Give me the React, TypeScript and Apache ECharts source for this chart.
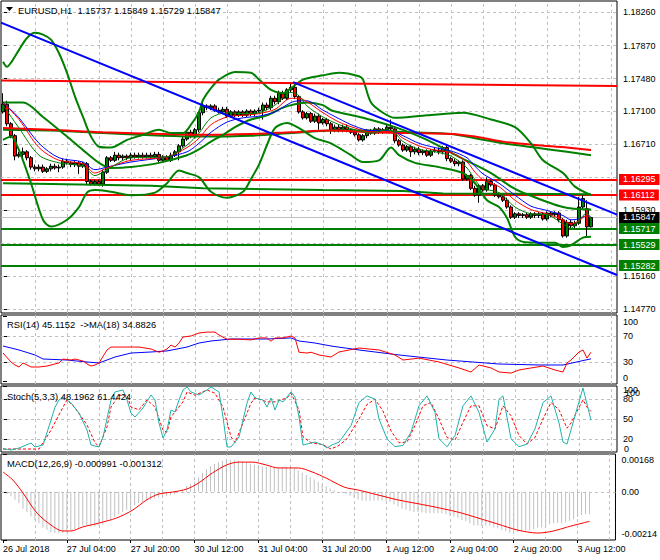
import React, { useEffect, useRef } from 'react';
import * as echarts from 'echarts';

const FONT = '"Liberation Sans", Arial, sans-serif';
const FS = 9;

const symbolTitle = 'EURUSD,H1  1.15737 1.15849 1.15729 1.15847';
const rsiTitle = 'RSI(14) 45.1152  ->MA(18) 34.8826';
const stochTitle = 'Stoch(5,3,3) 48.1962 61.4424';
const macdTitle = 'MACD(12,26,9) -0.000991 -0.001312';

const slotCount = 154;
const timeLabels = ['26 Jul 2018', '27 Jul 04:00', '27 Jul 20:00', '30 Jul 12:00', '31 Jul 04:00', '31 Jul 20:00', '1 Aug 12:00', '2 Aug 04:00', '2 Aug 20:00', '3 Aug 12:00'];
const timeLabelBars = [0, 16, 32, 48, 64, 80, 96, 112, 128, 144];
const verticalGridBars = [8, 16, 24, 32, 40, 48, 56, 64, 72, 80, 88, 96, 104, 112, 120, 128, 136, 144, 152];

const priceTickLabels = [1.1826, 1.1787, 1.1748, 1.171, 1.1671, 1.1593, 1.1516, 1.1477];
const priceGridLevels = [1.1826, 1.1787, 1.1748, 1.171, 1.1671, 1.1632, 1.1593, 1.1554, 1.1516, 1.1477];
const rsiTicks = [0, 30, 70, 100];
const rsiLevels = [30, 70];
const stochTicks = [0, 20, 50, 80, 100];
const stochLevels = [20, 50, 80];
const macdTicks = [-0.00214, 0, 0.00168];
const macdLevels = [0];

const resistanceLevels = [1.16295, 1.16112];
const supportLevels = [1.15717, 1.15529, 1.15282];
const bidPrice = 1.15847;

// [open, close, low, high]
const ohlc = [
  [1.1709, 1.1718, 1.1707, 1.1731], [1.1718, 1.1695, 1.1692, 1.1722], [1.1695, 1.1681, 1.1678, 1.1697], [1.1681, 1.1657, 1.1652, 1.1683],
  [1.1657, 1.1659, 1.1655, 1.1662], [1.1659, 1.1662, 1.1652, 1.1667], [1.1662, 1.1655, 1.1652, 1.1664], [1.1655, 1.1644, 1.1641, 1.1657],
  [1.1644, 1.1642, 1.1639, 1.1647], [1.1642, 1.1644, 1.1639, 1.1647], [1.1644, 1.1639, 1.1637, 1.1647], [1.1639, 1.1642, 1.1637, 1.1644],
  [1.1642, 1.1645, 1.1639, 1.1648], [1.1645, 1.1643, 1.1641, 1.1648], [1.1643, 1.1644, 1.1638, 1.1647], [1.1644, 1.1651, 1.1642, 1.1654],
  [1.1651, 1.1649, 1.1647, 1.1654], [1.1649, 1.1647, 1.1644, 1.1651], [1.1647, 1.1649, 1.1644, 1.1651], [1.1649, 1.1645, 1.1636, 1.1651],
  [1.1645, 1.1648, 1.1643, 1.165], [1.1648, 1.1627, 1.1623, 1.165], [1.1627, 1.1624, 1.1622, 1.1629], [1.1624, 1.1627, 1.1622, 1.1629],
  [1.1627, 1.1624, 1.1622, 1.1629], [1.1624, 1.1638, 1.1621, 1.1641], [1.1638, 1.1655, 1.1636, 1.1657], [1.1655, 1.1652, 1.165, 1.1657],
  [1.1652, 1.1658, 1.165, 1.1662], [1.1658, 1.1655, 1.1652, 1.1661], [1.1655, 1.1657, 1.1652, 1.1659], [1.1657, 1.1655, 1.1652, 1.1659],
  [1.1655, 1.1658, 1.1652, 1.1661], [1.1658, 1.1656, 1.1654, 1.1661], [1.1656, 1.1658, 1.1654, 1.1661], [1.1658, 1.1656, 1.1654, 1.1661],
  [1.1656, 1.1658, 1.1654, 1.1661], [1.1658, 1.1656, 1.1654, 1.1661], [1.1656, 1.1659, 1.1654, 1.1662], [1.1659, 1.1652, 1.165, 1.1662],
  [1.1652, 1.1656, 1.165, 1.1658], [1.1656, 1.1652, 1.165, 1.1658], [1.1652, 1.1658, 1.165, 1.1661], [1.1658, 1.1662, 1.1656, 1.1664],
  [1.1662, 1.1669, 1.1652, 1.1671], [1.1669, 1.1677, 1.1667, 1.168], [1.1677, 1.1685, 1.1675, 1.1688], [1.1685, 1.1681, 1.1678, 1.1688],
  [1.1681, 1.1688, 1.1678, 1.169], [1.1688, 1.1708, 1.1685, 1.171], [1.1708, 1.1716, 1.1705, 1.1723], [1.1716, 1.1714, 1.1711, 1.1718],
  [1.1714, 1.1716, 1.1711, 1.1718], [1.1716, 1.1711, 1.1709, 1.1718], [1.1711, 1.1709, 1.1707, 1.1714], [1.1709, 1.1712, 1.1707, 1.1715],
  [1.1712, 1.1704, 1.1702, 1.1715], [1.1704, 1.1709, 1.1702, 1.1711], [1.1709, 1.1705, 1.1703, 1.1711], [1.1705, 1.1709, 1.1703, 1.1711],
  [1.1709, 1.1705, 1.1703, 1.1711], [1.1705, 1.171, 1.1703, 1.1712], [1.171, 1.1707, 1.1704, 1.1712], [1.1707, 1.171, 1.1704, 1.1712],
  [1.171, 1.1711, 1.1708, 1.1714], [1.1711, 1.1717, 1.17, 1.172], [1.1717, 1.1714, 1.1711, 1.172], [1.1714, 1.1725, 1.1711, 1.1728],
  [1.1725, 1.1721, 1.1718, 1.1728], [1.1721, 1.1731, 1.1718, 1.1734], [1.1731, 1.1725, 1.1723, 1.1734], [1.1725, 1.1735, 1.1723, 1.1737],
  [1.1735, 1.1738, 1.1732, 1.1744], [1.1738, 1.1727, 1.1724, 1.1743], [1.1727, 1.1709, 1.1707, 1.1729], [1.1709, 1.1702, 1.17, 1.1711],
  [1.1702, 1.1707, 1.17, 1.1709], [1.1707, 1.1698, 1.1696, 1.1709], [1.1698, 1.1704, 1.1696, 1.1707], [1.1704, 1.1696, 1.1688, 1.1707],
  [1.1696, 1.17, 1.1694, 1.1702], [1.17, 1.1695, 1.1692, 1.1702], [1.1695, 1.1688, 1.1683, 1.1697], [1.1688, 1.1691, 1.1685, 1.1694],
  [1.1691, 1.1688, 1.1685, 1.1694], [1.1688, 1.1691, 1.1685, 1.1694], [1.1691, 1.1688, 1.1685, 1.1694], [1.1688, 1.1685, 1.1683, 1.169],
  [1.1685, 1.1682, 1.168, 1.1688], [1.1682, 1.1676, 1.1674, 1.1684], [1.1676, 1.1681, 1.1674, 1.1683], [1.1681, 1.1687, 1.1678, 1.1689],
  [1.1687, 1.1684, 1.1682, 1.1689], [1.1684, 1.1689, 1.1682, 1.1691], [1.1689, 1.1685, 1.1683, 1.1691], [1.1685, 1.1688, 1.1683, 1.169],
  [1.1688, 1.1691, 1.1685, 1.1694], [1.1691, 1.1689, 1.1687, 1.17], [1.1689, 1.1675, 1.1672, 1.1691], [1.1675, 1.167, 1.1668, 1.1677],
  [1.167, 1.1664, 1.1662, 1.1672], [1.1664, 1.1668, 1.1662, 1.167], [1.1668, 1.1662, 1.1656, 1.167], [1.1662, 1.1665, 1.1659, 1.1668],
  [1.1665, 1.1661, 1.1658, 1.1668], [1.1661, 1.1663, 1.1658, 1.1665], [1.1663, 1.1658, 1.1656, 1.1665], [1.1658, 1.1663, 1.1656, 1.1665],
  [1.1663, 1.1664, 1.1661, 1.1667], [1.1664, 1.1662, 1.1659, 1.1667], [1.1662, 1.1667, 1.1659, 1.1669], [1.1667, 1.1654, 1.1651, 1.1669],
  [1.1654, 1.1651, 1.1649, 1.1656], [1.1651, 1.1648, 1.1645, 1.1654], [1.1648, 1.165, 1.1645, 1.1652], [1.165, 1.163, 1.1628, 1.1652],
  [1.163, 1.1634, 1.1628, 1.1636], [1.1634, 1.1619, 1.1617, 1.1636], [1.1619, 1.1611, 1.1609, 1.1622], [1.1611, 1.1622, 1.1602, 1.1624],
  [1.1622, 1.1617, 1.1615, 1.1624], [1.1617, 1.1627, 1.1615, 1.1632], [1.1627, 1.1623, 1.1621, 1.1629], [1.1623, 1.1611, 1.1609, 1.1625],
  [1.1611, 1.1609, 1.1607, 1.1614], [1.1609, 1.1605, 1.1603, 1.1611], [1.1605, 1.1597, 1.1595, 1.1608], [1.1597, 1.1585, 1.1583, 1.1599],
  [1.1585, 1.1589, 1.1583, 1.1591], [1.1589, 1.1587, 1.1584, 1.1591], [1.1587, 1.1588, 1.1584, 1.159], [1.1588, 1.1585, 1.1583, 1.159],
  [1.1585, 1.1589, 1.1583, 1.1591], [1.1589, 1.1587, 1.1584, 1.1591], [1.1587, 1.1589, 1.1584, 1.1591], [1.1589, 1.1583, 1.1581, 1.1591],
  [1.1583, 1.159, 1.1581, 1.1592], [1.159, 1.1588, 1.1585, 1.1592], [1.1588, 1.159, 1.1585, 1.1592], [1.159, 1.1582, 1.1579, 1.1592],
  [1.1582, 1.1563, 1.1561, 1.1584], [1.1563, 1.1579, 1.1561, 1.1582], [1.1579, 1.1575, 1.1572, 1.1582], [1.1575, 1.1578, 1.1572, 1.1581],
  [1.1578, 1.1597, 1.1576, 1.1609], [1.1597, 1.1607, 1.1594, 1.1611], [1.1595, 1.15737, 1.1561, 1.1605], [1.15737, 1.15847, 1.15729, 1.15849],
];

const bbUpper = [[0, 1.1768], [1, 1.1762], [2, 1.1767], [4, 1.1782], [6, 1.1796], [8, 1.1802], [10, 1.18], [12, 1.1794], [14, 1.1778], [16, 1.1755], [18, 1.1727], [20, 1.1703], [22, 1.168], [24, 1.1668], [27, 1.1667], [31, 1.1676], [35, 1.1682], [39, 1.1688], [42, 1.1684], [45, 1.1684], [47, 1.1694], [49, 1.1709], [50, 1.1723], [52, 1.1737], [54, 1.1747], [58, 1.1756], [62, 1.1755], [64, 1.1747], [67, 1.1735], [70, 1.1731], [72, 1.1737], [75, 1.1747], [80, 1.1752], [84, 1.1755], [89, 1.1751], [90, 1.1747], [92, 1.172], [95, 1.1708], [98, 1.1702], [106, 1.1705], [115, 1.1708], [122, 1.17], [128, 1.1691], [132, 1.1672], [135, 1.1652], [140, 1.1637], [143, 1.1621], [147, 1.1611]];
const bbMiddle = [[0, 1.172], [5, 1.172], [10, 1.1703], [16, 1.168], [20, 1.1664], [24, 1.1649], [27, 1.1643], [32, 1.1644], [39, 1.1649], [46, 1.1658], [49, 1.1665], [52, 1.1674], [55, 1.1682], [58, 1.1691], [62, 1.17], [66, 1.1705], [70, 1.1714], [73, 1.1718], [76, 1.172], [80, 1.1717], [82, 1.1711], [90, 1.1702], [98, 1.1691], [106, 1.1676], [114, 1.1656], [122, 1.1637], [127, 1.1621], [130, 1.1614], [140, 1.1597], [147, 1.1594]];
const bbLower = [[0, 1.1676], [2, 1.168], [4, 1.1664], [7, 1.1625], [10, 1.1582], [12, 1.1574], [16, 1.1582], [19, 1.1597], [21, 1.1614], [23, 1.1617], [27, 1.1615], [32, 1.1611], [38, 1.1614], [41, 1.1625], [44, 1.164], [46, 1.1637], [49, 1.1632], [52, 1.1615], [56, 1.1608], [60, 1.1615], [62, 1.163], [64, 1.1647], [66, 1.167], [68, 1.169], [71, 1.1696], [74, 1.169], [78, 1.1678], [82, 1.1672], [87, 1.1658], [90, 1.165], [94, 1.1652], [97, 1.1667], [99, 1.1658], [103, 1.1649], [109, 1.1644], [115, 1.1637], [118, 1.1625], [121, 1.1605], [124, 1.1597], [126, 1.1584], [128, 1.1562], [130, 1.1556], [134, 1.1555], [138, 1.1555], [140, 1.155], [142, 1.1552], [145, 1.1561], [147, 1.1562]];

const maFast = [[0, 1.1717], [4, 1.169], [9, 1.1658], [14, 1.1649], [20, 1.1645], [23, 1.1634], [26, 1.1641], [32, 1.1655], [41, 1.1656], [46, 1.167], [49, 1.1684], [52, 1.1702], [56, 1.1708], [60, 1.1707], [64, 1.1708], [68, 1.1717], [72, 1.1732], [74, 1.1728], [76, 1.1716], [80, 1.1703], [84, 1.1694], [88, 1.1688], [92, 1.1684], [96, 1.1688], [98, 1.1684], [100, 1.1674], [104, 1.1665], [108, 1.1662], [112, 1.1657], [116, 1.1643], [118, 1.1629], [120, 1.1619], [124, 1.1614], [128, 1.1597], [132, 1.1589], [136, 1.1588], [140, 1.1577], [142, 1.1572], [144, 1.1582], [146, 1.159], [147, 1.1583]];
const maMid = [[0, 1.172], [4, 1.17], [9, 1.1667], [14, 1.1652], [20, 1.1648], [23, 1.1637], [26, 1.1643], [32, 1.1652], [41, 1.1656], [46, 1.1667], [49, 1.1678], [52, 1.1694], [56, 1.1703], [60, 1.1705], [64, 1.1707], [68, 1.1712], [72, 1.1725], [74, 1.1725], [76, 1.1721], [80, 1.1708], [84, 1.1697], [88, 1.169], [92, 1.1685], [96, 1.1686], [98, 1.1685], [100, 1.1678], [104, 1.1669], [108, 1.1664], [112, 1.1661], [116, 1.165], [118, 1.1638], [120, 1.1629], [124, 1.1621], [128, 1.1605], [132, 1.1594], [136, 1.1589], [140, 1.1582], [142, 1.1577], [144, 1.1581], [146, 1.1587], [147, 1.1584]];
const maSlow = [[0, 1.172], [4, 1.1702], [9, 1.1672], [14, 1.1655], [20, 1.165], [23, 1.1641], [26, 1.1644], [32, 1.165], [41, 1.1656], [46, 1.1662], [49, 1.1672], [52, 1.1685], [56, 1.1697], [60, 1.1702], [64, 1.1704], [68, 1.1709], [72, 1.172], [74, 1.1722], [76, 1.1722], [80, 1.1711], [84, 1.1701], [88, 1.1692], [92, 1.1687], [96, 1.1687], [98, 1.1685], [100, 1.1681], [104, 1.1672], [108, 1.1667], [112, 1.1663], [116, 1.1655], [118, 1.1645], [120, 1.1636], [124, 1.1625], [128, 1.1611], [132, 1.1598], [136, 1.1593], [140, 1.1587], [142, 1.1582], [144, 1.1583], [146, 1.1587], [147, 1.1585]];

const longRedMa = [[0, 1.169], [12, 1.1688], [25, 1.1685], [40, 1.1683], [50, 1.1682], [62, 1.1683], [72, 1.1685], [82, 1.1687], [92, 1.1685], [102, 1.1684], [112, 1.1683], [118, 1.168], [125, 1.1674], [133, 1.167], [141, 1.1667], [147, 1.1664]];
const longGreenMa = [[0, 1.1688], [12, 1.1687], [25, 1.1684], [40, 1.1681], [50, 1.168], [62, 1.1681], [72, 1.1684], [82, 1.1687], [92, 1.1687], [102, 1.1685], [112, 1.1683], [118, 1.1678], [125, 1.1672], [133, 1.1667], [141, 1.1662], [147, 1.1658]];
const slowGreenLine = [[0, 1.1625], [12, 1.1624], [37, 1.1622], [50, 1.1619], [80, 1.1617], [100, 1.1616], [110, 1.1613], [147, 1.1612]];

const topRedTrend = [[-0.5, 1.1746], [153.5, 1.17395]];
const channelLower = [[-0.5, 1.1814], [153.5, 1.1517]];
const channelUpper = [[72.5, 1.1744], [153.5, 1.1588]];

const rsi = [[0, 43.8], [2, 30], [3, 25.4], [4, 22.3], [5, 28.5], [6, 25.4], [7, 22.3], [9, 22.3], [11, 23.8], [12, 25.4], [14, 28.5], [15, 34.6], [17, 33], [18, 34.6], [20, 31.5], [21, 27], [22, 23.8], [23, 25.4], [24, 28.5], [26, 48.5], [27, 53], [31, 53], [34, 53], [37, 50], [39, 45], [40, 47], [41, 50], [42, 56], [43, 53], [44, 59], [45, 68.5], [47, 70], [49, 74.6], [51, 76], [53, 76], [54, 71.5], [56, 65], [59, 65], [62, 64], [64, 67], [66, 67], [67, 62], [68, 67], [70, 67], [72, 70], [73, 67], [74, 45], [76, 43.8], [77, 45], [79, 40.8], [82, 37.7], [84, 45.4], [89, 51.5], [94, 48.5], [98, 40.8], [100, 33], [104, 36], [109, 30], [114, 20.8], [117, 14.6], [119, 25.4], [122, 20.8], [124, 14.6], [127, 13], [129, 17.7], [132, 20.8], [135, 23.8], [138, 17.7], [140, 14.6], [141, 28.5], [142, 33], [144, 45.4], [145, 48.5], [146, 36], [147, 45.1152]];
const rsiMa = [[0, 54.6], [4, 48.5], [8, 40.8], [10, 34.6], [16, 33], [21, 30], [24, 28.5], [28, 37.7], [32, 43.8], [37, 45.4], [41, 47], [46, 53], [49, 59.2], [52, 62.3], [57, 65.4], [66, 65.4], [72, 67], [74, 62.3], [78, 59.2], [82, 54.6], [89, 48.5], [99, 40.8], [111, 33], [124, 26.9], [134, 25.4], [140, 25.4], [147, 34.8826]];

const stochK = [[0, 5], [2, 3], [4, 6], [7, 13.6], [8, 7.6], [10, 10.6], [12, 48.5], [13, 68], [14, 78.8], [15, 83.3], [17, 74.2], [19, 59], [21, 33.3], [22, 10.6], [24, 7.6], [25, 22.7], [27, 78.8], [28, 91], [30, 94], [31, 78.8], [32, 59], [33, 53], [35, 66.7], [37, 86.4], [38, 78.8], [39, 44], [40, 21.2], [41, 33.3], [42, 63.6], [43, 60.6], [44, 78.8], [45, 94], [46, 98.5], [47, 91], [49, 86.4], [51, 94], [52, 98.5], [54, 91], [55, 53], [56, 7.6], [57, 7.6], [59, 22.7], [61, 74.2], [62, 91], [63, 81.8], [65, 78.8], [66, 68], [67, 81.8], [68, 63.6], [69, 78.8], [70, 75.8], [72, 91], [73, 83.3], [74, 53], [75, 10.6], [77, 13.6], [78, 15.2], [80, 10.6], [81, 6], [82, 10], [84, 15], [87, 40], [89, 75], [91, 85], [93, 80], [94, 50], [96, 20], [98, 8], [100, 10], [102, 30], [104, 70], [106, 85], [108, 60], [109, 20], [111, 8], [113, 25], [115, 70], [117, 85], [119, 60], [121, 15], [123, 35], [124, 80], [125, 85], [127, 20], [129, 8], [131, 12], [133, 35], [135, 75], [137, 85], [139, 44], [140, 15], [141, 12], [143, 55], [145, 97], [147, 48.1962]];
const stochD = [[0, 4.5], [9, 4.5], [12, 33], [15, 68], [16, 79], [18, 67], [21, 41], [23, 14], [24, 8], [26, 38], [27, 68], [29, 86], [31, 86], [32, 68], [34, 64], [36, 79], [38, 68], [40, 33], [41, 30], [42, 53], [45, 76], [46, 91], [48, 86], [51, 94], [53, 89], [55, 68], [57, 23], [58, 14], [60, 44], [62, 74], [63, 82], [66, 76], [68, 76], [71, 82], [72, 89], [74, 64], [75, 23], [77, 14], [80, 11], [82, 4.5], [84, 10], [86, 20], [89, 50], [91, 72], [93, 80], [95, 62], [97, 32], [99, 14], [101, 15], [103, 40], [105, 70], [107, 75], [109, 50], [111, 22], [113, 18], [115, 45], [117, 70], [119, 70], [121, 40], [123, 35], [125, 70], [127, 55], [129, 25], [131, 12], [133, 22], [135, 50], [137, 75], [139, 64], [141, 36], [142, 44], [145, 79], [146, 68], [147, 61.4424]];

const macdMain = [
  -5e-5, -10e-5, -20e-5, -35e-5, -50e-5, -75e-5, -90e-5, -110e-5, -125e-5, -140e-5,
  -160e-5, -170e-5, -178e-5, -183e-5, -185e-5, -183e-5, -180e-5, -172e-5, -165e-5, -160e-5,
  -150e-5, -150e-5, -155e-5, -155e-5, -150e-5, -145e-5, -130e-5, -120e-5, -110e-5, -100e-5,
  -90e-5, -80e-5, -70e-5, -60e-5, -50e-5, -45e-5, -40e-5, -35e-5, -30e-5, -25e-5,
  -25e-5, -20e-5, -15e-5, -10e-5, 0, 10e-5, 25e-5, 35e-5, 45e-5, 65e-5,
  85e-5, 100e-5, 115e-5, 125e-5, 132e-5, 138e-5, 140e-5, 141e-5, 140e-5, 138e-5,
  135e-5, 130e-5, 125e-5, 120e-5, 115e-5, 112e-5, 110e-5, 110e-5, 110e-5, 108e-5,
  108e-5, 110e-5, 110e-5, 105e-5, 95e-5, 85e-5, 75e-5, 65e-5, 55e-5, 45e-5,
  35e-5, 25e-5, 15e-5, 8e-5, 0, -5e-5, -10e-5, -18e-5, -25e-5, -35e-5,
  -40e-5, -40e-5, -40e-5, -38e-5, -38e-5, -40e-5, -40e-5, -45e-5, -55e-5, -65e-5,
  -75e-5, -80e-5, -85e-5, -90e-5, -90e-5, -92e-5, -95e-5, -95e-5, -95e-5, -95e-5,
  -95e-5, -100e-5, -105e-5, -110e-5, -115e-5, -125e-5, -130e-5, -140e-5, -150e-5, -150e-5,
  -152e-5, -150e-5, -150e-5, -158e-5, -162e-5, -168e-5, -175e-5, -182e-5, -180e-5, -178e-5,
  -175e-5, -172e-5, -168e-5, -165e-5, -160e-5, -158e-5, -150e-5, -145e-5, -140e-5, -138e-5,
  -140e-5, -135e-5, -128e-5, -122e-5, -112e-5, -103e-5, -100e-5, -0.000991,
];
const macdSignal = [[0, 0.00088], [2.5, 0.00052], [5, -0.00005], [8.5, -0.00094], [12, -0.00147], [15, -0.00174], [17, -0.00174], [20, -0.00156], [24, -0.00139], [28.5, -0.00116], [32.5, -0.00081], [36, -0.00036], [39, -0.0001], [42.5, -0.00001], [46, 0.00012], [49, 0.00039], [52.5, 0.00084], [56, 0.00119], [59, 0.00132], [62.5, 0.00132], [66, 0.00119], [69, 0.00106], [74, 0.00106], [77.5, 0.00088], [81, 0.00061], [85.5, 0.00021], [89, 0.00008], [94, -0.00014], [99, -0.00036], [107, -0.00063], [114, -0.0009], [119, -0.00116], [124, -0.00143], [129, -0.0017], [134, -0.00183], [138, -0.00174], [141.5, -0.00156], [147, -0.001312]];

const GRID_BOXES = [
  { top: 1, height: 312 },
  { top: 315, height: 69 },
  { top: 386, height: 66 },
  { top: 454, height: 86 },
];
const Y_RANGES = [
  [1.14723, 1.18395],
  [-3.85, 102.3],
  [0, 100],
  [-0.00214, 0.00168],
];

function buildOption(): any {
  const categories = Array.from({ length: slotCount }, (_, i) => String(i));
  const labelStyle = { color: '#000', fontFamily: FONT, fontSize: FS };

  const grids = GRID_BOXES.map((g) => ({
    left: 1, right: 43, top: g.top, height: g.height,
    show: true, borderColor: '#000', borderWidth: 1, backgroundColor: '#fff',
  }));

  const catAxes = GRID_BOXES.map((_, i) => ({
    type: 'category', gridIndex: i, position: 'bottom', data: categories, boundaryGap: true, show: false,
  }));
  const valAxes = GRID_BOXES.map((_, i) => ({
    type: 'value', gridIndex: i, position: 'bottom', min: -0.5, max: 153.5, show: i === 3,
    splitLine: { show: false }, axisLine: { show: false },
    axisTick: { show: i === 3, customValues: timeLabelBars, length: 3, lineStyle: { color: '#000' } },
    axisLabel: {
      show: i === 3, customValues: timeLabelBars, align: 'left', margin: 4, ...labelStyle,
      formatter: (v: number) => timeLabels[timeLabelBars.indexOf(Math.round(v))] || '',
    },
  }));

  const tickSets = [priceTickLabels, rsiTicks, stochTicks, macdTicks];
  const padTop = [0, 11, 8, 12];
  const padBottom = [0, 7, 13, 13];
  const yAxes = GRID_BOXES.map((_, i) => ({
    type: 'value', gridIndex: i, position: 'right', min: Y_RANGES[i][0], max: Y_RANGES[i][1],
    splitLine: { show: false }, axisLine: { show: false },
    axisTick: { show: true, customValues: tickSets[i], length: 4, lineStyle: { color: '#000' } },
    axisLabel: {
      customValues: tickSets[i], margin: 6, ...labelStyle,
      formatter: (v: number) => {
        if (i === 0) return v.toFixed(5);
        const top = Y_RANGES[i][1];
        const isMax = i === 1 ? v === 100 : v === top;
        const isMin = i === 1 ? v === 0 : v === Y_RANGES[i][0];
        const s = i === 3 ? (v === 0 ? '0.00' : v.toFixed(5)) : String(v);
        if (isMax) return '{t|' + s + '}';
        if (isMin) return '{b|' + s + '}';
        return s;
      },
      rich: {
        t: { ...labelStyle, padding: [padTop[i], 0, 0, 0] },
        b: { ...labelStyle, padding: [0, 0, padBottom[i], 0] },
      },
    },
  }));

  const gridLineSeries = (g: number, levels: number[]) => ({
    type: 'line', xAxisIndex: 4 + g, yAxisIndex: g, data: [], silent: true,
    markLine: {
      silent: true, z: 1, symbol: ['none', 'none'], precision: 6, animation: false,
      label: { show: false },
      lineStyle: { color: '#c0c0c0', type: [3, 3], width: 1 },
      emphasis: { disabled: true },
      data: [
        ...levels.map((v) => ({ yAxis: v })),
        ...verticalGridBars.map((x) => ({ xAxis: x })),
      ],
    },
  });

  const line = (data: any, g: number, color: string, width: number, extra: any = {}) => ({
    type: 'line', data, xAxisIndex: 4 + g, yAxisIndex: g, showSymbol: false, symbol: 'none',
    silent: true, z: 4, lineStyle: { color, width }, emphasis: { disabled: true }, ...extra,
  });

  const levelItem = (v: number, lineColor: string, boxColor: string, width: number) => ({
    yAxis: v,
    lineStyle: { color: lineColor, width, type: 'solid' },
    label: {
      show: true, position: 'end', distance: 2, formatter: v.toFixed(5),
      backgroundColor: boxColor,
      color: '#fff', padding: [1, 4, 0, 4], lineHeight: 10, fontFamily: FONT, fontSize: FS,
    },
  });

  const levelSeries = {
    type: 'line', xAxisIndex: 4, yAxisIndex: 0, data: [], silent: true,
    markLine: {
      silent: true, z: 3, symbol: ['none', 'none'], precision: 6, animation: false,
      emphasis: { disabled: true },
      data: [
        levelItem(bidPrice, '#c0c0c0', '#000', 1),
        ...resistanceLevels.map((v) => levelItem(v, '#ff0000', '#ff0000', 2)),
        ...supportLevels.map((v) => levelItem(v, '#008000', '#008000', 2)),
      ],
    },
  };

  const smooth = { smooth: 0.3 };

  const series: any[] = [
    gridLineSeries(0, priceGridLevels),
    gridLineSeries(1, rsiLevels),
    gridLineSeries(2, stochLevels),
    gridLineSeries(3, macdLevels),
    levelSeries,
    {
      type: 'candlestick', xAxisIndex: 0, yAxisIndex: 0, data: ohlc, barWidth: 3, z: 3, silent: true,
      itemStyle: { color: '#008000', color0: '#ff0000', borderColor: '#000', borderColor0: '#000', borderWidth: 1 },
      emphasis: { disabled: true },
    },
    line(slowGreenLine, 0, '#008000', 2),
    line(longGreenMa, 0, '#008000', 2, smooth),
    line(longRedMa, 0, '#ff0000', 2, smooth),
    line(bbUpper, 0, '#008000', 2, smooth),
    line(bbMiddle, 0, '#008000', 2, smooth),
    line(bbLower, 0, '#008000', 2, smooth),
    line(maSlow, 0, '#0000ff', 1, smooth),
    line(maMid, 0, '#ff0000', 1, smooth),
    line(maFast, 0, '#008000', 1, smooth),
    line(topRedTrend, 0, '#ff0000', 2),
    line(channelLower, 0, '#0000ff', 2),
    line(channelUpper, 0, '#0000ff', 2),
    line(rsiMa, 1, '#0000ff', 1),
    line(rsi, 1, '#ff0000', 1),
    line(stochD, 2, '#ff0000', 1, { lineStyle: { color: '#ff0000', width: 1, type: [3, 2] } }),
    line(stochK, 2, '#20b2aa', 1),
    {
      type: 'bar', xAxisIndex: 3, yAxisIndex: 3, data: macdMain, barWidth: 1, silent: true, z: 3,
      itemStyle: { color: '#c0c0c0' }, emphasis: { disabled: true },
    },
    line(macdSignal, 3, '#ff0000', 1, smooth),
  ];

  const txt = (text: string, x: number, y: number) => ({
    type: 'text', x, y, silent: true, z: 100,
    style: { text, fill: '#000', fontFamily: FONT, fontSize: 9.4, verticalAlign: 'middle', align: 'left' },
  });

  const graphic = [
    { type: 'polygon', silent: true, z: 100, shape: { points: [[6, 7], [13, 7], [9.5, 11]] }, style: { fill: '#000' } },
    txt(symbolTitle, 18, 10),
    txt(rsiTitle, 7, 324),
    txt(stochTitle, 7, 396),
    txt(macdTitle, 7, 463),
    { type: 'text', x: 625, y: 393, silent: true, z: 100, style: { text: '100', fill: '#000', fontFamily: FONT, fontSize: FS, verticalAlign: 'middle' } },
    { type: 'text', x: 624, y: 449, silent: true, z: 100, style: { text: '0', fill: '#000', fontFamily: FONT, fontSize: FS, verticalAlign: 'middle' } },
  ];

  return {
    animation: false,
    backgroundColor: '#fff',
    textStyle: { fontFamily: FONT },
    grid: grids,
    xAxis: [...catAxes, ...valAxes],
    yAxis: yAxes,
    graphic,
    series,
  };
}

export default function App() {
  const ref = useRef<HTMLDivElement>(null);
  useEffect(() => {
    if (!ref.current) return;
    const chart = echarts.init(ref.current, null, { renderer: 'svg' });
    chart.setOption(buildOption());
    return () => chart.dispose();
  }, []);
  return <div ref={ref} style={{ position: 'absolute', left: 0, top: 0, width: 660, height: 560, background: '#fff' }} />;
}
